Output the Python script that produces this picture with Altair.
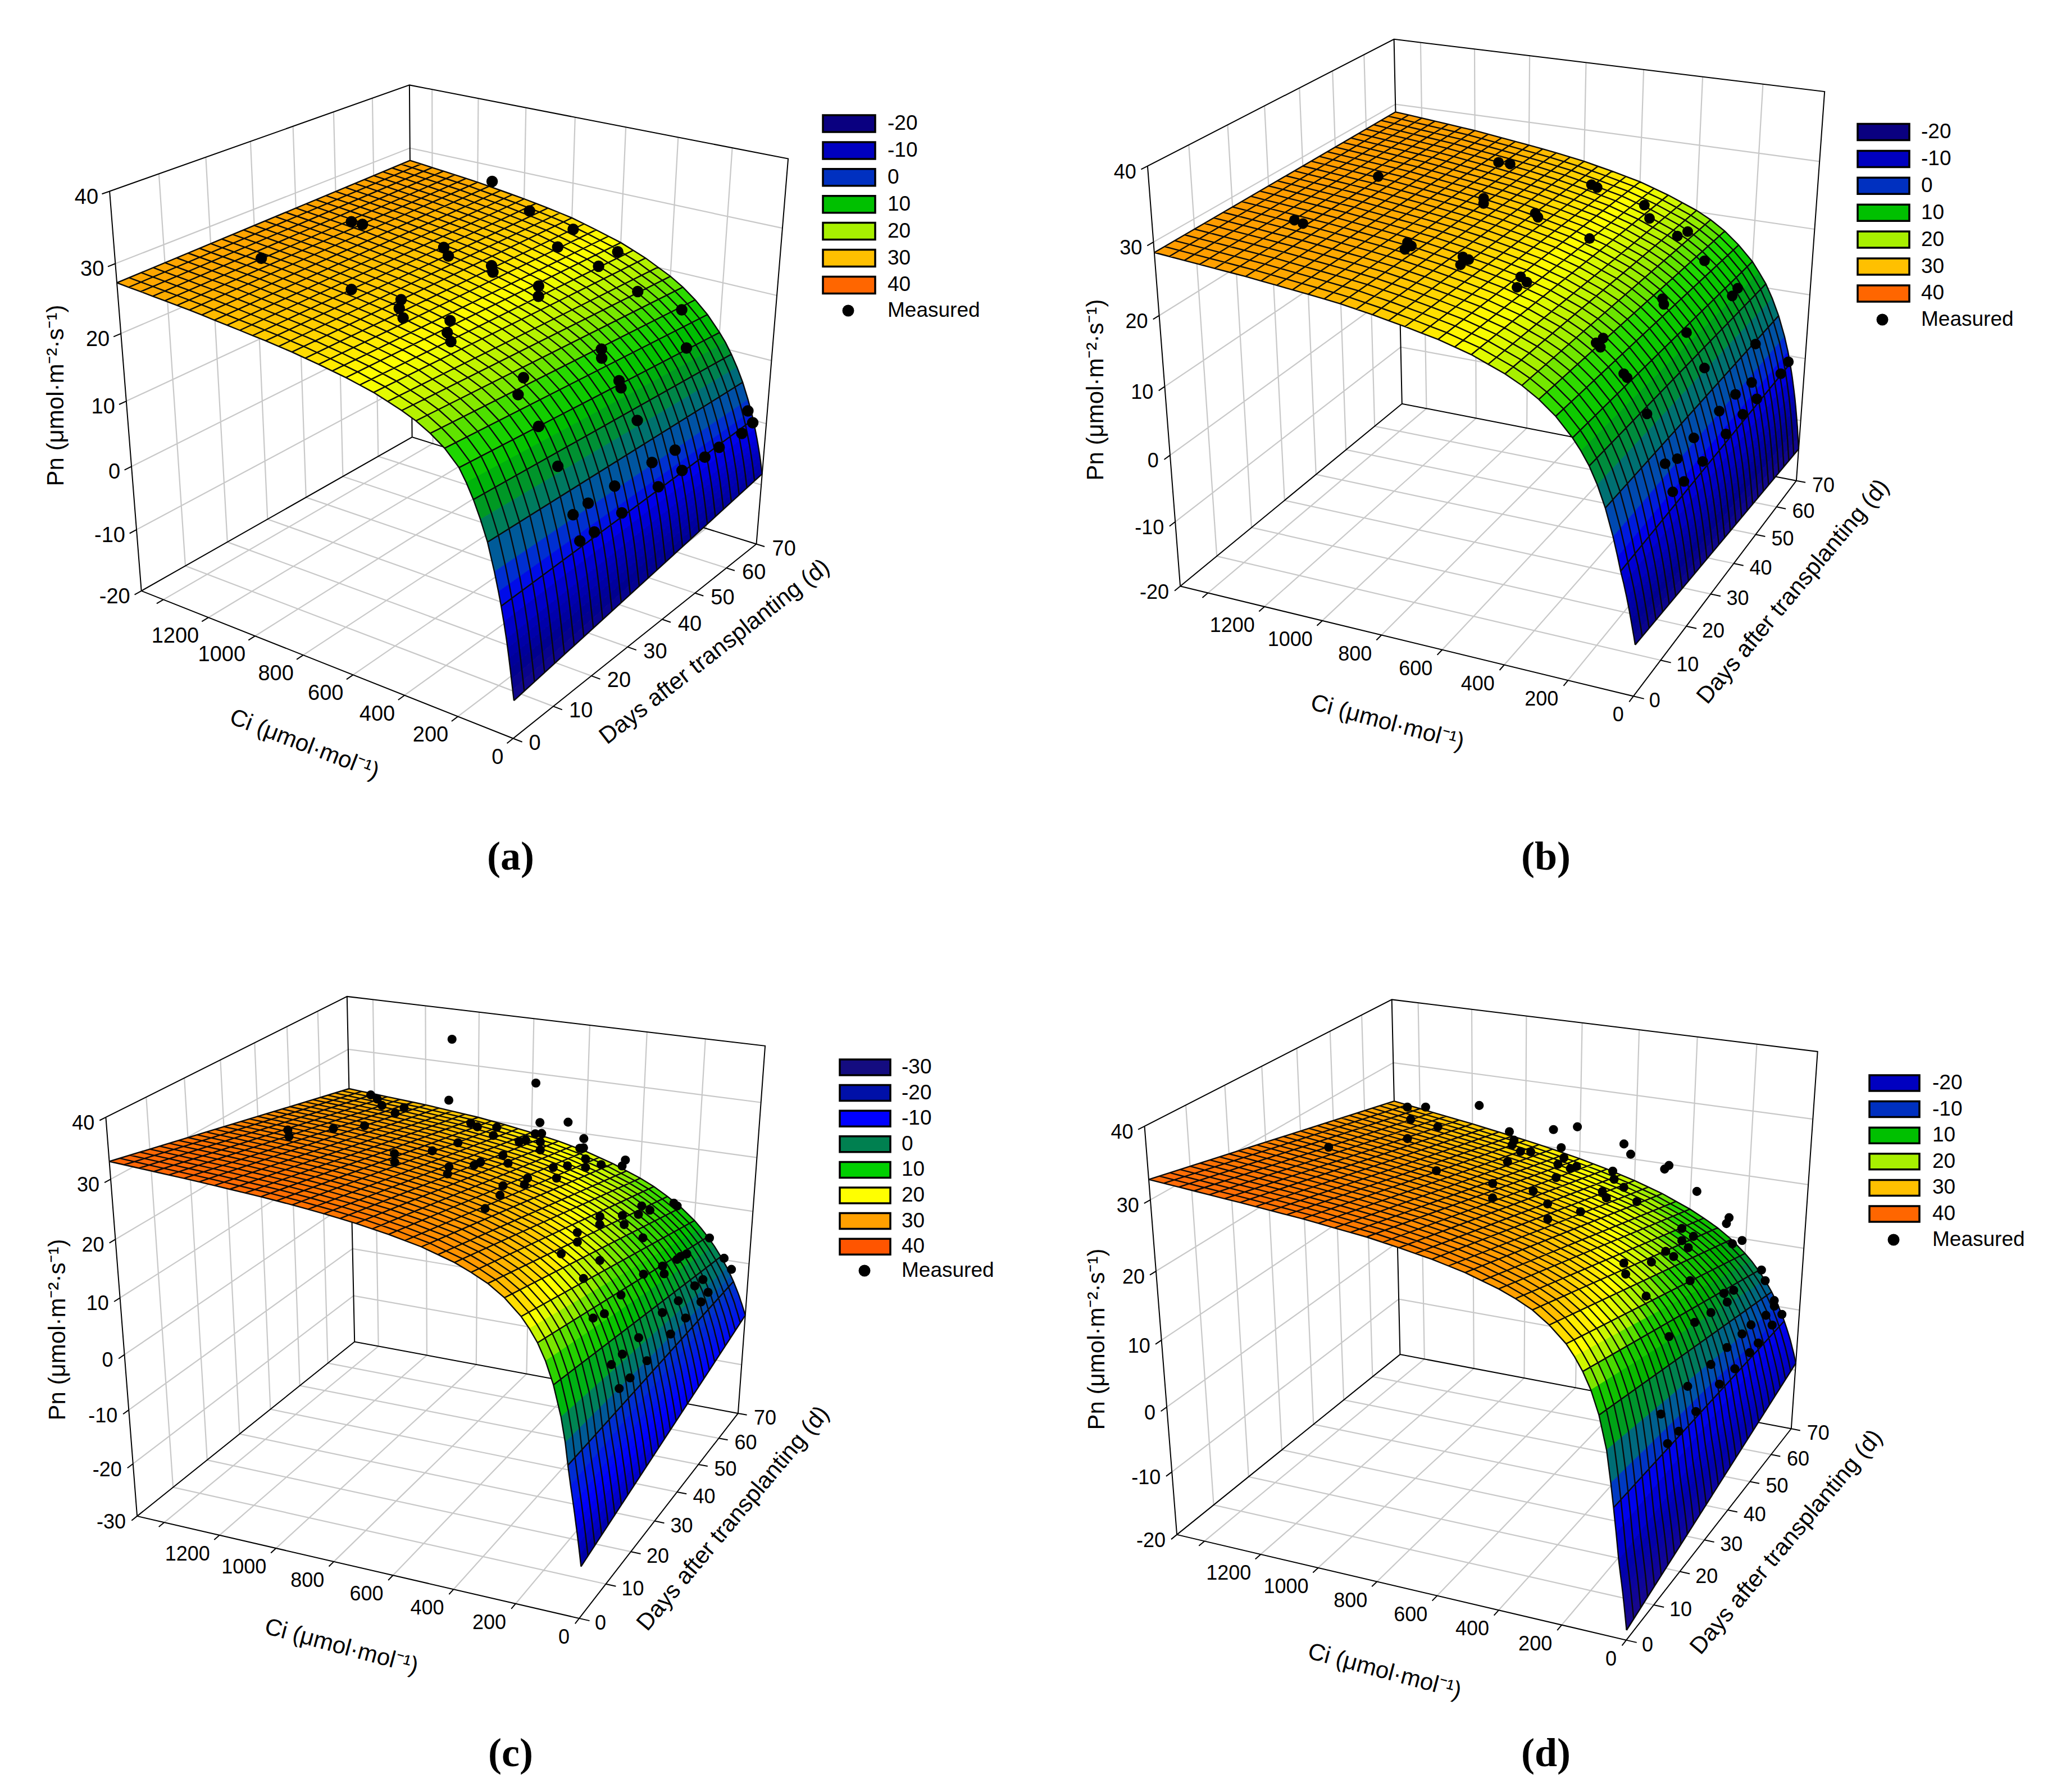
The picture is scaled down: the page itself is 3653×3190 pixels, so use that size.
import numpy as np
import altair as alt

# ---------- values ----------
CI_MAX, DAT_MAX = 1500.0, 70.0
CI_GRID = [0,5,10,15,20,25,30,40,50,60,75,100,125,150,175,200,250,300,350,400,500,600,700,800,900,1000,1200,1500]
CI_TICKS = [0,200,400,600,800,1000,1200,1400]
CI_LABELS = [0,200,400,600,800,1000,1200]
DAT_TICKS = [0,10,20,30,40,50,60,70]

PN_DAT0_A = [-14.3,-12.8,-11.3,-9.8,-8.4,-7.0,-5.7,-3.4,-1.3,0.6,3.2,7.0,9.8,12.2,14.2,15.9,17.9,19.3,20.4,21.2,22.5,23.4,24.1,24.7,25.2,25.6,26.4,27.3]
PN_DAT70_A = [-8.2,-7.2,-6.2,-5.3,-4.4,-3.6,-2.8,-1.3,0.1,1.3,3.0,5.5,7.6,9.4,11.0,12.3,14.6,16.4,17.9,19.1,21.0,22.5,23.6,24.6,25.3,25.9,26.9,28.0]
PN_DAT0_B = [-12.5,-11.3,-10.2,-9.1,-8.0,-7.0,-6.0,-4.2,-2.6,-0.7,1.9,5.6,8.5,10.8,12.6,14.1,16.5,18.3,19.7,20.8,22.5,23.7,24.6,25.4,26.1,26.6,27.5,28.6]
PN_DAT70_B = [-14.7,-12.9,-11.1,-9.6,-8.1,-6.7,-5.5,-3.2,-1.2,0.6,2.9,6.0,8.5,10.6,12.2,13.7,15.9,17.7,19.1,20.2,21.9,23.3,24.3,25.2,25.9,26.5,27.6,28.8]
PN_DAT0_C = [-20.7,-18.8,-17.0,-15.2,-13.5,-11.8,-10.2,-7.1,-3.8,-0.1,4.0,9.0,12.6,15.3,17.3,19.0,21.5,23.3,24.6,25.7,27.3,28.4,29.3,30.0,30.6,31.1,31.9,32.9]
PN_DAT70_C = [-10.1,-9.4,-8.7,-8.0,-7.4,-6.7,-6.1,-5.0,-3.9,-2.9,-1.5,0.5,2.3,3.9,5.3,6.6,8.7,10.4,11.9,13.1,15.1,16.7,17.9,18.8,19.6,20.3,21.3,22.4]
PN_DAT0_D = [-18.5,-16.6,-14.8,-13.1,-11.5,-10.0,-8.4,-4.6,-1.0,2.4,6.9,11.5,14.7,17.0,18.8,20.3,22.4,24.0,25.1,26.0,27.4,28.4,29.2,29.9,30.4,30.9,31.7,32.8]
PN_DAT70_D = [-8.8,-8.0,-7.2,-6.5,-5.8,-5.1,-4.5,-3.3,-2.2,-1.2,0.2,2.2,3.9,5.3,6.6,7.7,9.6,11.1,12.3,13.4,15.2,16.6,17.8,18.8,19.7,20.5,21.9,23.8]

# measured points: (Ci, days after transplanting, Pn)
MEASURED_A = [(1118,68.7,28),(945,67.8,25),(753,67.0,24),(697,58.5,24),(576,67.3,22),(553,59.9,22),(1289,41.7,27),(1242,41.7,27),(1298,20.7,27),(926,43.0,26),
 (903,42.7,25),(772,45.5,24),(734,43.3,24),(611,47.2,22),(560,43.6,22),(968,22.8,25),(825,26.0,24),(785,23.1,24),(726,20.4,24),(631,25.7,23),
 (581,21.8,23),(563,21.5,22),(417,61.4,19),(302,66.0,16),(203,59.8,13),(307,42.8,17),(267,39.9,17),(319,23.1,19),(290,19.8,18),(212,40.8,14),
 (205,40.9,13),(198,18.6,15),(137,40.6,9),(132,19.0,10),(86,41.4,3),(73,47.1,3),(61,55.6,-1),(60,60.0,-1),(52,66.6,-1),(41,69.1,0),(48,47.5,0),
 (50,40.7,0),(69,29.6,4),(48,30.3,0),(72,22.8,4),(68,18.6,4),(49,23.0,0),(53,19.5,0),(54,68.3,2)]
MEASURED_B = [(1293,20.5,28),(1255,19.8,28),(1256,42.3,28),(1030,61.7,26),(988,61.7,26),(716,63.6,24),(688,62.7,24),(921,45.5,26),(900,43.4,26),(743,45.4,25),
 (746,46.7,24),(532,63.8,22),(471,58.6,22),(375,58.6,20),(360,61.1,20),(280,58.5,17),(549,44.2,23),(956,24.2,26),(936,21.6,26),(932,23.2,26),
 (780,24.8,25),(758,21.9,25),(755,24.2,25),(607,26.2,23),(582,22.4,23),(573,24.7,23),(285,41.7,17),(265,39.8,17),(178,60.3,13),(190,59.6,12),
 (311,22.5,18),(316,20.6,18),(292,19.4,18),(198,41.0,13),(92,57.9,6),(218,19.3,15),(217,20.5,14),(124,39.4,9),(57,70.1,-1),(49,65.2,-1),
 (144,19.4,10),(87,41.8,2),(83,48.3,2),(56,54.8,-1),(58,48.7,-1),(67,53.4,2),(58,41.3,-1),(76,29.7,3),(57,31.4,-1),(91,20.4,3),(86,24.6,2),
 (61,24.4,-1),(67,20.8,-1)]
MEASURED_C = [(1111,71.1,34),(793,70.6,28),(1107,69.5,23),(1408,69.4,22),(1365,67.8,22),(1290,62.5,23),(1211,59.8,23),(1236,65.4,22),(1339,35.8,27),
 (1304,33.2,27),(1241,41.6,26),(1216,49.6,24),(768,69.8,21),(661,69.3,22),(980,65.0,21),(943,63.7,21),(904,67.2,20),(879,63.2,20),(779,69.2,19),
 (761,69.8,19),(609,70.1,19),(773,62.0,20),(782,65.6,19),(730,65.8,19),(908,52.8,22),(902,43.0,24),(697,62.1,19),(624,70.3,17),(594,68.3,18),
 (975,37.2,25),(914,31.5,26),(745,52.6,21),(761,45.9,22),(745,41.9,23),(698,49.5,21),(590,55.2,19),(574,59.2,18),(565,65.8,17),(533,62.0,17),
 (458,70.3,16),(465,69.8,15),(515,66.6,16),(788,37.4,24),(764,34.5,24),(605,46.8,20),(570,41.7,21),(541,50.9,19),(606,37.7,22),(580,33.8,22),
 (532,23.5,24),(265,68.4,10),(262,69.7,9),(320,60.6,12),(282,59.4,12),(286,54.7,13),(312,51.0,14),(339,44.8,16),(314,41.7,16),(278,47.5,14),
 (316,33.0,18),(286,29.5,18),(232,50.0,11),(294,24.4,18),(237,32.6,14),(140,69.4,4),(143,55.7,6),(147,59.3,5),(145,54.4,6),(92,70.6,0),(65,70.8,-2),
 (153,48.8,7),(154,40.5,9),(141,48.1,6),(212,23.3,15),(96,60.7,0),(89,55.7,1),(72,60.2,-2),(67,56.1,-2),(143,29.8,10),(82,47.1,2),(96,41.9,2),
 (69,49.2,-2),(137,22.6,10),(140,18.6,11),(70,42.6,-2),(82,30.0,3),(84,23.7,3),(73,18.0,4),(68,32.2,-2),(58,23.9,-1),(61,20.0,-1)]
MEASURED_D = [(1421,67.5,24),(1364,68.7,24),(1175,70.1,25),(1349,62.1,24),(1260,63.3,23),(1235,50.7,25),(1361,36.9,27),(1047,68.6,22),(894,69.6,23),
 (806,69.5,24),(1023,67.9,21),(1007,65.6,21),(954,63.3,21),(921,63.8,21),(872,70.4,20),(646,70.5,22),(610,69.2,21),(923,55.4,22),(814,62.9,20),
 (822,66.1,20),(774,65.9,19),(760,61.9,20),(498,70.4,19),(476,69.5,20),(1009,39.4,25),(670,68.9,18),(767,57.2,20),(635,65.5,18),(386,71.0,16),
 (825,40.4,24),(770,34.9,24),(732,45.1,22),(602,57.0,19),(599,65.4,17),(590,57.3,18),(509,60.3,17),(644,41.0,22),(570,45.1,20),(589,35.3,22),
 (262,70.0,13),(270,70.0,12),(207,69.2,10),(244,69.8,9),(349,60.1,14),(309,60.2,13),(310,55.3,14),(289,55.5,13),(304,47.8,15),(285,48.8,14),
 (325,33.8,18),(292,40.6,16),(287,30.1,18),(204,45.8,12),(131,68.7,6),(122,69.6,4),(207,28.5,16),(142,52.7,8),(139,56.8,7),(125,52.1,7),(87,69.7,1),
 (87,69.9,0),(126,45.1,8),(128,38.5,9),(57,69.6,-1),(72,63.6,1),(75,56.9,2),(58,65.0,-1),(77,53.1,2),(143,30.1,10),(52,57.6,-1),(85,47.5,2),
 (52,53.7,-1),(71,38.7,3),(54,47.3,-1),(64,28.3,4),(59,41.3,-1),(57,31.3,-1),(68,18.5,4),(56,24.4,-1),(57,20.2,-1)]

# colour ramps of the surface (Pn value, colour)
RAMP_AB = [(-20,"#10107a"),(-15,"#1a0a88"),(-10,"#000090"),(-5,"#0000c0"),(-1,"#0000f0"),(2,"#0030d0"),(5,"#005a9a"),(8,"#007a60"),(11,"#009a20"),(14,"#00c000"),(17,"#20d800"),(20,"#a0ee00"),(23,"#ffff00"),(25,"#ffd000"),(27,"#ffa800"),(30,"#ff9000"),(40,"#ff5000")]
RAMP_C = [(-30,"#100080"),(-20,"#0000a0"),(-12,"#0000ff"),(-5,"#0030d0"),(-1,"#006a80"),(3,"#009040"),(7,"#00c000"),(12,"#40dc00"),(15,"#b0f000"),(18,"#ffff00"),(21,"#ffc800"),(24,"#ffa000"),(30,"#ff7000"),(35,"#ff5a10"),(40,"#ff5000")]
RAMP_D = [(-20,"#200a80"),(-10,"#0000b0"),(-3,"#0000f0"),(2,"#0050b0"),(6,"#008050"),(10,"#00b000"),(14,"#20d000"),(16,"#a0ee00"),(19,"#ffff00"),(22,"#ffc800"),(25,"#ffa000"),(30,"#ff7800"),(35,"#ff5a10"),(40,"#ff5000")]

LEG_AB = ([-20,-10,0,10,20,30,40],["#0a0080","#0000c0","#0030c0","#00c000","#a8f000","#ffc000","#ff6600"])
LEG_C = ([-30,-20,-10,0,10,20,30,40],["#140c80","#0010a8","#0000ff","#008050","#00d000","#ffff00","#ffa000","#ff5500"])
LEG_D = ([-20,-10,10,20,30,40],["#0000c0","#0030c0","#00c000","#a8f000","#ffc000","#ff6600"])

# ---------- layout of each panel (page pixels) ----------
PANELS = [
 dict(tag="(a)", zr=(-20,40), front=PN_DAT0_A, back=PN_DAT70_A, pts=MEASURED_A, ramp=RAMP_AB, leg=LEG_AB, tick_fs=38,
      corners=[(250.3,1050),(195.2,342),(915,1315),(1345.4,968.6),(734.7,779.2),(729,150.7),(1402.9,281.8)],
      legx=(1465,1558), legy=(220,47.9), legh=30, dot=(1510,553), leglab=1580, ptsize=420,
      pn=(100,704), ci=(542,1325,21), days=(1272,1160,322), lab=(909,1526)),
 dict(tag="(b)", zr=(-20,40), front=PN_DAT0_B, back=PN_DAT70_B, pts=MEASURED_B, ramp=RAMP_AB, leg=LEG_AB, tick_fs=36,
      corners=[(2100.7,1042.9),(2043.2,295.9),(2907.9,1239.8),(3197.7,855.1),(2496.2,719.4),(2481.3,69.4),(3248.3,163.3)],
      legx=(3307,3399), legy=(235,47.9), legh=29, dot=(3351,569), leglab=3420, ptsize=360,
      pn=(1951,694), ci=(2470,1286,15), days=(3192,1053,310), lab=(2752,1526)),
 dict(tag="(c)", zr=(-30,40), front=PN_DAT0_C, back=PN_DAT70_C, pts=MEASURED_C, ramp=RAMP_C, leg=LEG_C, tick_fs=36,
      corners=[(244.5,2697.8),(189.4,1987.9),(1029.8,2883.1),(1314.5,2512.5),(631.4,2390.9),(616.5,1773.2),(1362.7,1863.5)],
      legx=(1495,1585), legy=(1900,45.6), legh=28, dot=(1539,2262), leglab=1605, ptsize=260,
      pn=(103,2367), ci=(608,2931,15), days=(1305,2703,310), lab=(909,3122)),
 dict(tag="(d)", zr=(-20,40), front=PN_DAT0_D, back=PN_DAT70_D, pts=MEASURED_D, ramp=RAMP_D, leg=LEG_D, tick_fs=36,
      corners=[(2096.1,2731.1),(2037.4,2004.1),(2894.1,2921.1),(3189.6,2541),(2491.6,2412.7),(2477.8,1778.9),(3235.7,1873)],
      legx=(3328,3417), legy=(1928,46.6), legh=28, dot=(3371,2207), leglab=3440, ptsize=260,
      pn=(1953,2384), ci=(2465,2975,15), days=(3180,2745,310), lab=(2752,3122)),
]
W, H = 3637, 3174
FONT = "Liberation Sans"


def camera(p):
    z0, z1 = p["zr"]
    world = [(CI_MAX,0,z0),(CI_MAX,0,z1),(0,0,z0),(0,DAT_MAX,z0),(CI_MAX,DAT_MAX,z0),(CI_MAX,DAT_MAX,z1),(0,DAT_MAX,z1)]
    rows = []
    for w, (u, v) in zip(world, p["corners"]):
        X = [w[0], w[1], w[2], 1.0]
        rows.append(X + [0]*4 + [-u*t for t in X])
        rows.append([0]*4 + X + [-v*t for t in X])
    M = np.linalg.svd(np.array(rows, float))[2][-1].reshape(3, 4)
    def proj(c, d, z):
        h = M @ np.array([c, d, z, 1.0])
        return [round(float(h[0]/h[2]), 1), round(float(h[1]/h[2]), 1)]
    return proj


def feature(kind, coords, **props):
    return {"type": "Feature", "geometry": {"type": kind, "coordinates": coords}, "properties": props}


def panel_layers(p):
    proj = camera(p)
    z0, z1 = p["zr"]
    z_ticks = list(range(z0, z1 + 1, 10))
    layers = []

    # walls and floor
    grid = []
    for c in CI_TICKS[1:]:
        grid.append([proj(c,0,z0), proj(c,DAT_MAX,z0), proj(c,DAT_MAX,z1)])
    for d in DAT_TICKS[1:-1]:
        grid.append([proj(0,d,z0), proj(CI_MAX,d,z0), proj(CI_MAX,d,z1)])
    for z in z_ticks[1:-1]:
        grid.append([proj(CI_MAX,0,z), proj(CI_MAX,DAT_MAX,z), proj(0,DAT_MAX,z)])
    layers.append(alt.Chart(alt.Data(values=[feature("MultiLineString", grid)])).mark_geoshape(
        filled=False, stroke="#c8c8c8", strokeWidth=2.2))

    frame = [
        [proj(CI_MAX,0,z0), proj(CI_MAX,0,z1), proj(CI_MAX,DAT_MAX,z1), proj(0,DAT_MAX,z1), proj(0,DAT_MAX,z0)],
        [proj(CI_MAX,DAT_MAX,z1), proj(CI_MAX,DAT_MAX,z0)],
        [proj(CI_MAX,0,z0), proj(CI_MAX,DAT_MAX,z0), proj(0,DAT_MAX,z0), proj(0,0,z0), proj(CI_MAX,0,z0)],
    ]
    for z in z_ticks:
        frame.append([proj(CI_MAX,0,z), proj(CI_MAX,-1.5,z)])
    for c in CI_TICKS:
        frame.append([proj(c,0,z0), proj(c,-1.5,z0)])
    for d in DAT_TICKS:
        frame.append([proj(0,d,z0), proj(-32,d,z0)])
    layers.append(alt.Chart(alt.Data(values=[feature("MultiLineString", frame)])).mark_geoshape(
        filled=False, stroke="black", strokeWidth=2.0))

    # surface
    mesh_ci = [float(c) for c in range(0, 1501, 50)]
    fine = sorted(set(float(c) for c in CI_GRID) | set(mesh_ci))
    def pn(c, d):
        a = np.interp(c, CI_GRID, p["front"])
        b = np.interp(c, CI_GRID, p["back"])
        return float(a + (b - a) * d / DAT_MAX)
    cells = []
    steps = [i * 5.0 for i in range(15)]
    for c1, c0 in zip(fine[::-1][:-1], fine[::-1][1:]):
        for d1, d0 in zip(steps[::-1][:-1], steps[::-1][1:]):
            ring = [proj(c0,d0,pn(c0,d0)), proj(c1,d0,pn(c1,d0)), proj(c1,d1,pn(c1,d1)), proj(c0,d1,pn(c0,d1))]
            ring.append(ring[0])
            v = round((pn(c0,d0) + pn(c1,d0) + pn(c0,d1) + pn(c1,d1)) / 4, 2)
            cells.append(feature("Polygon", [ring], v=v))
    dom = [r[0] for r in p["ramp"]]
    rng = [r[1] for r in p["ramp"]]
    scale = alt.Scale(domain=dom, range=rng, interpolate="rgb", clamp=True)
    layers.append(alt.Chart(alt.Data(values=cells)).mark_geoshape(strokeWidth=1.0).encode(
        color=alt.Color("properties.v:Q", scale=scale, legend=None),
        stroke=alt.Stroke("properties.v:Q", scale=scale, legend=None)))

    mesh = []
    for d in [i * 2.5 for i in range(29)]:
        mesh.append([proj(c, d, pn(c, d)) for c in fine])
    for c in mesh_ci:
        mesh.append([proj(c, 0, pn(c, 0)), proj(c, DAT_MAX, pn(c, DAT_MAX))])
    layers.append(alt.Chart(alt.Data(values=[feature("MultiLineString", mesh)])).mark_geoshape(
        filled=False, stroke="#0a0a0a", strokeWidth=2.4))

    # measured points
    pts = [dict(zip(("lon","lat"), proj(*q))) for q in p["pts"]]
    layers.append(alt.Chart(alt.Data(values=pts)).mark_circle(size=p["ptsize"], color="black", opacity=1).encode(
        longitude="lon:Q", latitude="lat:Q"))

    # tick labels
    def text_layer(rows, size, align="center", font=FONT, weight="normal"):
        return alt.Chart(alt.Data(values=rows)).mark_text(
            font=font, fontSize=size, align=align, baseline="middle", color="black", fontWeight=weight
        ).encode(longitude="lon:Q", latitude="lat:Q", text="t:N", angle=alt.Angle("a:Q", scale=None))
    def lab(x, y, t, a=0):
        return {"lon": x, "lat": y, "t": str(t), "a": a}
    fs = p["tick_fs"]
    zl = [lab(proj(CI_MAX,0,z)[0]-20, proj(CI_MAX,0,z)[1]+11, z) for z in z_ticks]
    cl = [lab(proj(c,0,z0)[0]-17, proj(c,0,z0)[1]+34, c) for c in CI_LABELS]
    dl = [lab(proj(0,d,z0)[0]+28, proj(0,d,z0)[1]+9, d) for d in DAT_TICKS]
    layers.append(text_layer(zl + cl, fs, "right"))
    layers.append(text_layer(dl, fs, "left"))

    # axis titles
    t = [lab(p["pn"][0], p["pn"][1], "Pn (μmol·m⁻²·s⁻¹)", 270),
         lab(p["ci"][0], p["ci"][1], "Ci (μmol·mol⁻¹)", p["ci"][2]),
         lab(p["days"][0], p["days"][1], "Days after transplanting (d)", p["days"][2])]
    layers.append(text_layer(t, 42))

    # legend
    levels, colours = p["leg"]
    x0, x1 = p["legx"]
    yc, step = p["legy"]
    h = p["legh"] / 2
    sw = []
    ll = []
    for i, (lv, col) in enumerate(zip(levels, colours)):
        y = yc + i * step
        sw.append(feature("Polygon", [[[x0,y-h],[x1,y-h],[x1,y+h],[x0,y+h],[x0,y-h]]], c=col))
        ll.append(lab(p["leglab"], y, lv))
    ll.append(lab(p["leglab"], p["dot"][1], "Measured"))
    layers.append(alt.Chart(alt.Data(values=sw)).mark_geoshape(stroke="black", strokeWidth=3.5).encode(
        color=alt.Color("properties.c:N", scale=None)))
    layers.append(text_layer(ll, 37, "left"))
    layers.append(alt.Chart(alt.Data(values=[{"lon": p["dot"][0], "lat": p["dot"][1]}])).mark_circle(
        size=440, color="black", opacity=1).encode(longitude="lon:Q", latitude="lat:Q"))

    # panel letter
    layers.append(text_layer([lab(p["lab"][0], p["lab"][1], p["tag"])], 72, "center", "Liberation Serif", "bold"))
    return layers


all_layers = []
for panel in PANELS:
    all_layers += panel_layers(panel)

chart = alt.layer(*all_layers).resolve_scale(color="independent", stroke="independent").project(
    type="identity", scale=1, translate=[-8, -8]
).properties(width=W, height=H, padding=0).configure_view(strokeWidth=0)

chart.save("out.html", embed_options={"renderer": "svg", "actions": False})
